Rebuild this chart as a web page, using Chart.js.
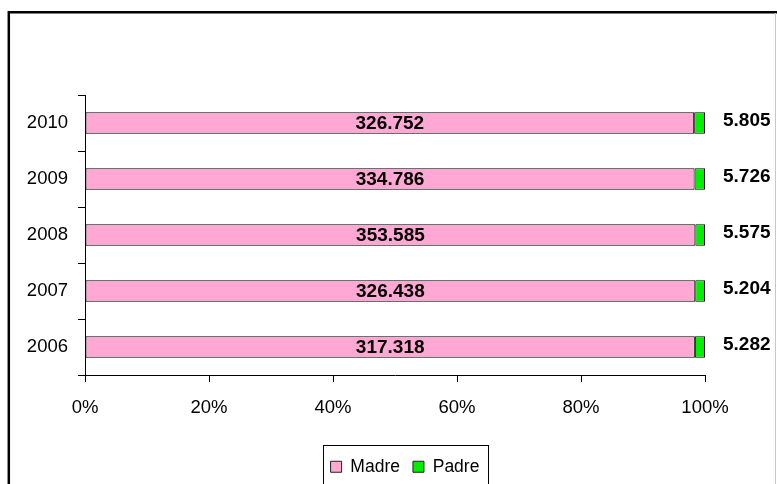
<!DOCTYPE html>
<html>
<head>
<meta charset="utf-8">
<script src="https://cdn.jsdelivr.net/npm/chart.js@4/dist/chart.umd.min.js"></script>
<style>
html,body{margin:0;padding:0;background:#fff;}
#wrap{position:relative;width:777px;height:484px;}
</style>
</head>
<body>
<div id="wrap"><canvas id="c" width="777" height="484"></canvas></div>
<script>
const years = ['2006', '2007', '2008', '2009', '2010'];
const madre = [317318, 326438, 353585, 334786, 326752];
const padre = [5282, 5204, 5575, 5726, 5805];
const xTicks = [0, 20, 40, 60, 80, 100];
const seriesNames = ['Madre', 'Padre'];

const totals = madre.map((m, i) => m + padre[i]);
const madrePct = madre.map((m, i) => m / totals[i] * 100);
const padrePct = padre.map((p, i) => p / totals[i] * 100);

const FONT = '"Liberation Sans Narrow", "Liberation Sans", Arial, sans-serif';
function fmt(n) { return String(n).replace(/\B(?=(\d{3})+(?!\d))/g, '.'); }

const framePlugin = {
  id: 'frame',
  beforeDraw(chart) {
    const ctx = chart.ctx;
    ctx.save();
    ctx.fillStyle = '#fff';
    ctx.fillRect(0, 0, chart.width, chart.height);
    ctx.strokeStyle = '#000';
    ctx.lineWidth = 2.5;
    ctx.beginPath();
    ctx.moveTo(8.8, chart.height);
    ctx.lineTo(8.8, 12.2);
    ctx.lineTo(chart.width, 12.2);
    ctx.stroke();
    ctx.strokeStyle = '#c8c8c8';
    ctx.lineWidth = 1;
    ctx.beginPath();
    ctx.moveTo(chart.width - 1.5, 13);
    ctx.lineTo(chart.width - 1.5, chart.height);
    ctx.stroke();
    ctx.restore();
  }
};

const legendPlugin = {
  id: 'legendShift',
  beforeInit(chart) {
    const lg = chart.legend;
    if (lg && !lg._patched) {
      const origFit = lg.fit;
      lg.fit = function () { origFit.call(this); this.height = 39; };
      lg._patched = true;
    }
  },
  afterLayout(chart) {
    const lg = chart.legend;
    const target = (chart.chartArea.left + chart.chartArea.right) / 2 + 10;
    const cur = (lg.left + lg.right) / 2;
    const dx = target - cur;
    lg.left += dx; lg.right += dx;
  },
  afterDraw(chart) {
    const lg = chart.legend;
    const hb = lg.legendHitBoxes;
    if (!hb || !hb.length) return;
    const ctx = chart.ctx;
    const l = hb[0].left - 8;
    const r = hb[hb.length - 1].left + hb[hb.length - 1].width + 8;
    ctx.save();
    ctx.strokeStyle = '#000';
    ctx.lineWidth = 1;
    ctx.strokeRect(Math.round(l) + 0.5, Math.round(lg.top) + 0.5, Math.round(r - l), chart.height);
    ctx.restore();
  }
};

const labelPlugin = {
  id: 'valueLabels',
  afterDatasetsDraw(chart) {
    const ctx = chart.ctx;
    ctx.save();
    ctx.fillStyle = '#000';
    ctx.textBaseline = 'middle';
    const m0 = chart.getDatasetMeta(0);
    ctx.font = 'bold 19px ' + FONT;
    ctx.textAlign = 'center';
    m0.data.forEach((el, i) => {
      ctx.fillText(fmt(madre[i]), (el.x + el.base) / 2, el.y + 0.5);
    });
    const m1 = chart.getDatasetMeta(1);
    ctx.font = 'bold 19px ' + FONT;
    ctx.textAlign = 'left';
    m1.data.forEach((el, i) => {
      ctx.fillText(fmt(padre[i]), el.x + 18, el.y - 2.5);
    });
    ctx.restore();
  }
};

new Chart(document.getElementById('c'), {
  type: 'bar',
  data: {
    labels: years,
    datasets: [
      { label: seriesNames[0], data: madrePct, backgroundColor: '#FFA8D4', borderColor: '#000', borderWidth: 1, borderSkipped: false, barPercentage: 0.38, categoryPercentage: 1 },
      { label: seriesNames[1], data: padrePct, backgroundColor: '#00EE00', borderColor: '#000', borderWidth: 1, borderSkipped: false, barPercentage: 0.38, categoryPercentage: 1 }
    ]
  },
  options: {
    indexAxis: 'y',
    responsive: false,
    animation: false,
    layout: { padding: { top: 95, right: 72, left: 0, bottom: 0 } },
    scales: {
      x: {
        stacked: true, min: 0, max: 100,
        afterBuildTicks(scale) { scale.ticks = xTicks.map(v => ({ value: v })); },
        afterFit(scale) { scale.height = 70; },
        grid: { drawOnChartArea: false, color: '#000', tickLength: 7, tickWidth: 1 },
        border: { display: true, color: '#000', width: 1 },
        ticks: { color: '#000', padding: 15, font: { family: FONT, size: 18.5 }, callback: v => v + '%', maxRotation: 0 }
      },
      y: {
        stacked: true, reverse: true,
        afterFit(scale) { scale.width = 85; },
        grid: { drawOnChartArea: false, color: '#000', tickLength: 7, offset: true },
        border: { display: true, color: '#000', width: 1 },
        ticks: { color: '#000', padding: 10, font: { family: FONT, size: 18.5 } }
      }
    },
    plugins: {
      tooltip: { enabled: false },
      legend: {
        position: 'bottom',
        labels: {
          color: '#000',
          font: { family: FONT, size: 17.5 },
          boxWidth: 11, boxHeight: 11, padding: 13,
          generateLabels(chart) {
            return chart.data.datasets.map((d, i) => ({
              text: d.label, fillStyle: d.backgroundColor, strokeStyle: '#222', lineWidth: 1, datasetIndex: i, hidden: false
            }));
          }
        }
      }
    }
  },
  plugins: [framePlugin, legendPlugin, labelPlugin]
});
</script>
</body>
</html>
